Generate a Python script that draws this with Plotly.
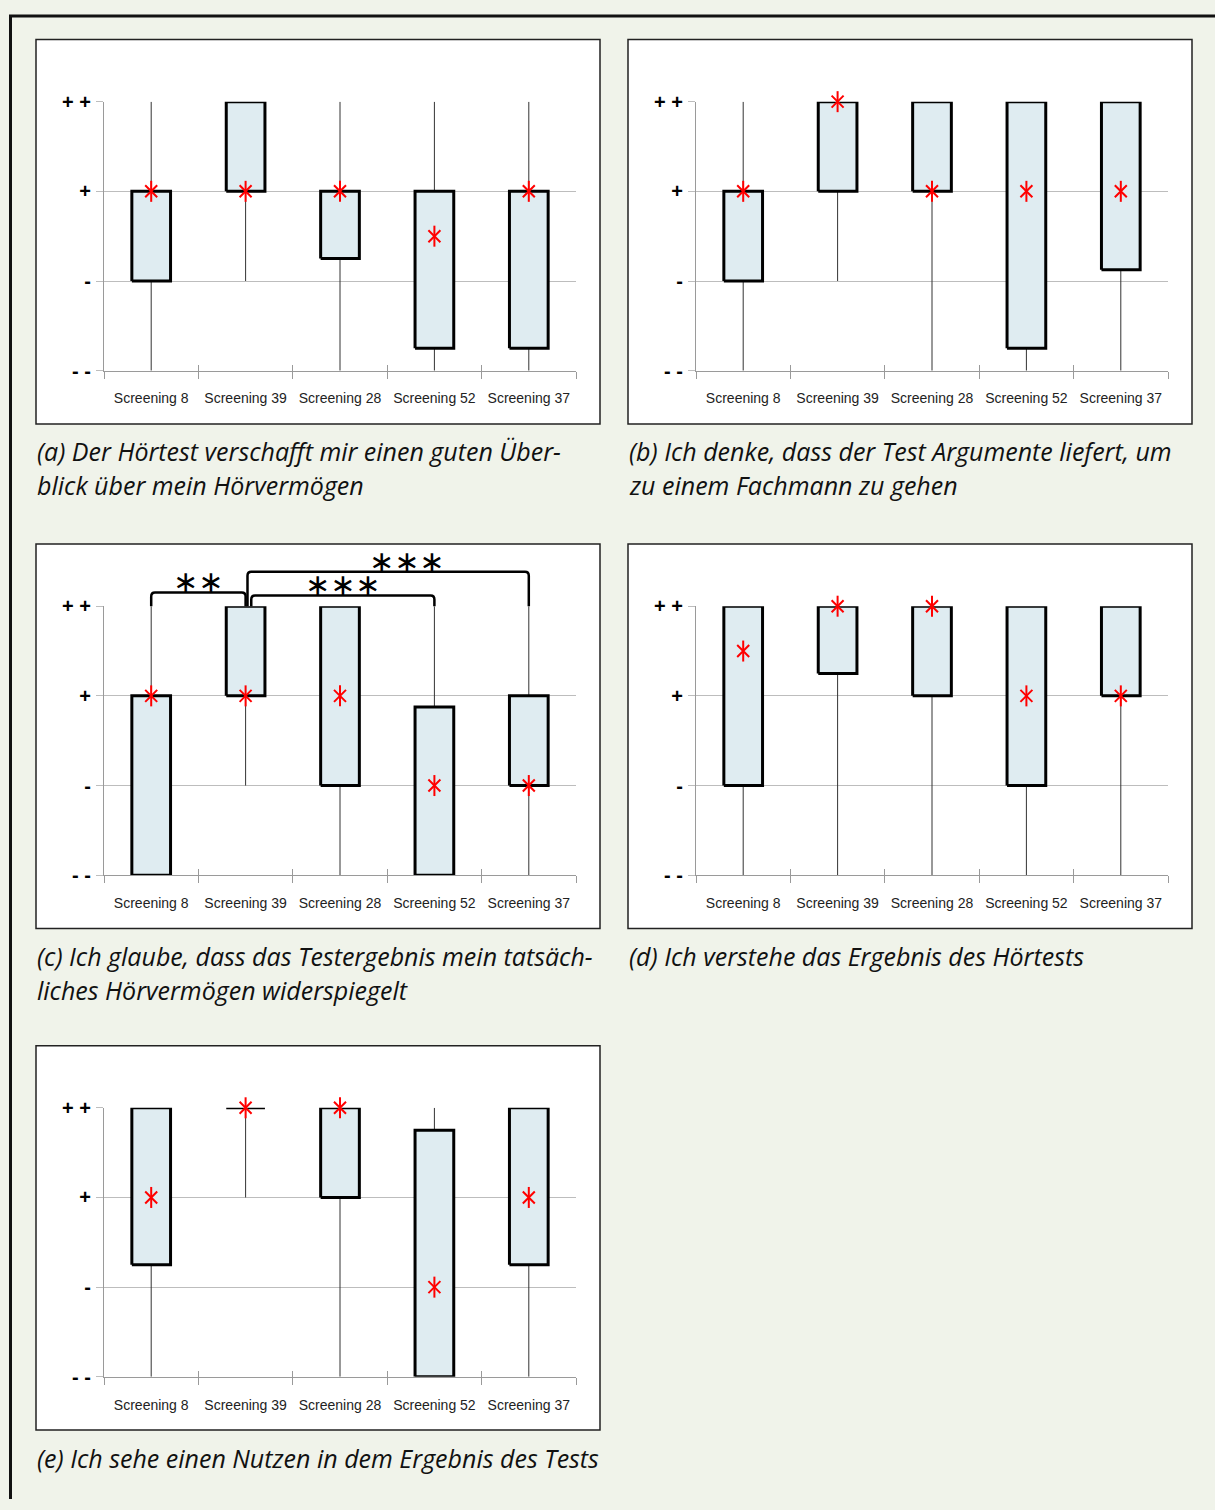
import plotly.graph_objects as go

W, H = 1215, 1510

categories = ["Screening 8", "Screening 39", "Screening 28", "Screening 52", "Screening 37"]
levels = [0, 1, 2, 3]
level_labels = ["- -", "-", "+", "+ +"]

# (a) Der Hörtest verschafft mir einen guten Überblick
a_min = [0, 1, 0, 0, 0]
a_q1 = [1, 2, 1.25, 0.25, 0.25]
a_median = [2, 2, 2, 1.5, 2]
a_q3 = [2, 3, 2, 2, 2]
a_max = [3, 3, 3, 3, 3]

# (b) Argumente, um zu einem Fachmann zu gehen
b_min = [0, 1, 0, 0, 0]
b_q1 = [1, 2, 2, 0.25, 1.125]
b_median = [2, 3, 2, 2, 2]
b_q3 = [2, 3, 3, 3, 3]
b_max = [3, 3, 3, 3, 3]

# (c) Testergebnis spiegelt Hörvermögen wider
c_min = [0, 1, 0, 0, 0]
c_q1 = [0, 2, 1, 0, 1]
c_median = [2, 2, 2, 1, 1]
c_q3 = [2, 3, 3, 1.875, 2]
c_max = [3, 3, 3, 3, 3]

# (d) Ergebnis verstanden
d_min = [0, 0, 0, 0, 0]
d_q1 = [1, 2.25, 2, 1, 2]
d_median = [2.5, 3, 3, 2, 2]
d_q3 = [3, 3, 3, 3, 3]
d_max = [3, 3, 3, 3, 3]

# (e) Nutzen im Ergebnis
e_min = [0, 2, 0, 0, 0]
e_q1 = [1.25, 3, 2, 0, 1.25]
e_median = [2, 3, 3, 1, 2]
e_q3 = [3, 3, 3, 2.75, 3]
e_max = [3, 3, 3, 3, 3]

captions_a = ["(a) Der Hörtest verschafft mir einen guten Über-", "blick über mein Hörvermögen"]
captions_b = ["(b) Ich denke, dass der Test Argumente liefert, um", "zu einem Fachmann zu gehen"]
captions_c = ["(c) Ich glaube, dass das Testergebnis mein tatsäch-", "liches Hörvermögen widerspiegelt"]
captions_d = ["(d) Ich verstehe das Ergebnis des Hörtests"]
captions_e = ["(e) Ich sehe einen Nutzen in dem Ergebnis des Tests"]

# significance brackets in (c): (from, to, stars)
sig_c = [(0, 1, "∗∗"), (1.06, 3, "∗∗∗"), (1.02, 4, "∗∗∗")]

panels = [
    (36, 29, (a_min, a_q1, a_median, a_q3, a_max), captions_a),
    (628, 29, (b_min, b_q1, b_median, b_q3, b_max), captions_b),
    (36, 541, (c_min, c_q1, c_median, c_q3, c_max), captions_c),
    (628, 541, (d_min, d_q1, d_median, d_q3, d_max), captions_d),
    (36, 1050, (e_min, e_q1, e_median, e_q3, e_max), captions_e),
]

BOX_FILL = "#DFECF1"
GRID = "#BDBDBD"
AXIS = "#9A9A9A"
HALF = 0.205
bounds = [i - 0.5 for i in range(len(categories) + 1)]


def px(x):
    return x / W


def py(y):
    return 1 - y / H


fig = go.Figure()
shapes = []
annotations = []
layout = {}

# outer frame (left + top edge)
shapes.append(dict(type="line", xref="paper", yref="paper", x0=px(10.5), x1=px(10.5), y0=py(4), y1=0,
                   line=dict(color="#111", width=3)))
shapes.append(dict(type="line", xref="paper", yref="paper", x0=px(9), x1=1, y0=py(5), y1=py(5),
                   line=dict(color="#111", width=3)))

for n, (left, top, stats, caption) in enumerate(panels, start=1):
    lo, q1, med, q3, hi = stats
    xs = list(range(len(categories)))
    xa, ya, xo = f"x{n}", f"y{n}", f"x{n + 5}"

    # panel frame
    shapes.append(dict(type="rect", xref="paper", yref="paper", layer="below",
                       x0=px(left), x1=px(left + 564), y0=py(top + 390), y1=py(top),
                       fillcolor="white", line=dict(color="#222", width=1.5)))

    # whiskers
    wx, wy = [], []
    for i in xs:
        if hi[i] > q3[i]:
            wx += [i, i, None]
            wy += [q3[i], hi[i], None]
        if lo[i] < q1[i]:
            wx += [i, i, None]
            wy += [q1[i], lo[i], None]
    fig.add_trace(go.Scatter(x=wx, y=wy, mode="lines", line=dict(color="#333", width=1),
                             xaxis=xa, yaxis=ya, hoverinfo="skip", showlegend=False))

    # boxes
    bx, by = [], []
    for i in xs:
        bx += [i - HALF, i + HALF, i + HALF, i - HALF, i - HALF, None]
        by += [q1[i], q1[i], q3[i], q3[i], q1[i], None]
    fig.add_trace(go.Scatter(x=bx, y=by, mode="lines", fill="toself", fillcolor=BOX_FILL,
                             line=dict(color="black", width=3), xaxis=xa, yaxis=ya,
                             hoverinfo="skip", showlegend=False))

    # medians (red asterisk)
    for sym, size in (("x-thin-open", 12), ("line-ns-open", 15)):
        fig.add_trace(go.Scatter(x=xs, y=med, mode="markers",
                                 marker=dict(symbol=sym, size=size, color="red",
                                             line=dict(color="red", width=2)),
                                 xaxis=xa, yaxis=ya, showlegend=False, cliponaxis=False))

    fig.add_trace(go.Scatter(x=[None], y=[None], xaxis=xo, yaxis=ya, showlegend=False, hoverinfo="skip"))

    xdom = [px(left + 68), px(left + 540)]
    ydom = [py(top + 336), py(top + 63)]
    layout[f"xaxis{n}"] = dict(
        domain=xdom, anchor=ya, range=[-0.5, 4.5], tickvals=xs, ticktext=categories,
        ticks="", showline=True, linecolor=AXIS, linewidth=1, showgrid=False, zeroline=False,
        tickfont=dict(family="Liberation Sans, Arial", size=14, color="#222"), ticklabelstandoff=15,
        minor=dict(tickvals=bounds, ticks="outside", ticklen=7, tickcolor=AXIS, showgrid=False),
        fixedrange=True,
    )
    layout[f"xaxis{n + 5}"] = dict(
        overlaying=xa, anchor=ya, range=[-0.5, 4.5], tickvals=bounds, ticks="inside", ticklen=6,
        tickcolor=AXIS, showticklabels=False, showline=False, showgrid=False, zeroline=False,
        fixedrange=True,
    )
    layout[f"yaxis{n}"] = dict(
        domain=ydom, anchor=xa, range=[0, 3], tickvals=levels, ticktext=level_labels,
        ticks="outside", ticklen=7, tickcolor=GRID, showgrid=True, gridcolor=GRID, gridwidth=1,
        showline=True, linecolor=AXIS, zeroline=False, ticklabelstandoff=1,
        tickfont=dict(family="Liberation Sans, Arial", size=20, color="black", weight="bold"),
        fixedrange=True,
    )

    for j, line in enumerate(caption):
        annotations.append(dict(text=line, xref="paper", yref="paper", x=px(left - 1),
                                y=py(top + 418 + j * 34), xanchor="left", yanchor="middle",
                                showarrow=False,
                                font=dict(family="Open Sans", size=25, color="#111", style="italic")))

# brackets in (c)
heights = [1.051, 1.04, 1.128]
star_y = [1.09, 1.08, 1.168]
rx, ry = 0.04, 0.015
for (x0, x1, stars), h, sy in zip(sig_c, heights, star_y):
    path = (f"M {x0},1 L {x0},{h - ry} Q {x0},{h} {x0 + rx},{h} "
            f"L {x1 - rx},{h} Q {x1},{h} {x1},{h - ry} L {x1},1")
    shapes.append(dict(type="path", xref="x3", yref="y3 domain", path=path,
                       line=dict(color="black", width=2.5)))
    annotations.append(dict(text=stars, xref="x3", yref="y3 domain", x=(x0 + x1) / 2 if x1 < 4 else 2.7,
                            y=sy, showarrow=False, xanchor="center", yanchor="middle",
                            font=dict(family="DejaVu Sans", size=30, color="black")))

fig.update_layout(
    width=W, height=H, margin=dict(l=0, r=0, t=0, b=0),
    paper_bgcolor="#F0F3EA", plot_bgcolor="white", showlegend=False,
    shapes=shapes, annotations=annotations, **layout,
)

# drop the default page margin so the figure sits at the window origin
page_fix = ("for (const el of [document.documentElement, document.body]) "
            "{el.style.margin='0'; el.style.padding='0'; el.style.overflow='hidden';}")
fig.write_html("out.html", config={"displayModeBar": False}, post_script=page_fix)
